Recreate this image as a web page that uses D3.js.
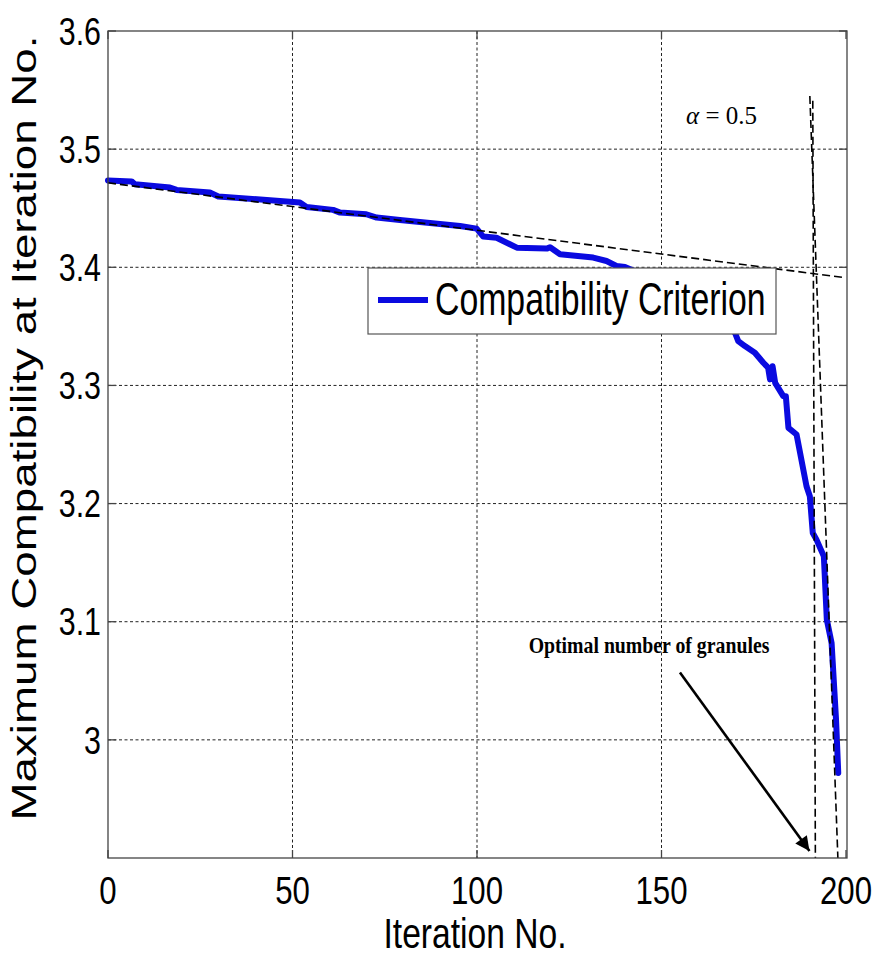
<!DOCTYPE html>
<html>
<head>
<meta charset="utf-8">
<script src="https://cdn.jsdelivr.net/npm/d3@7/dist/d3.min.js"></script>
<style>
  html, body { margin: 0; padding: 0; background: #fff; }
  svg { display: block; }
</style>
</head>
<body>
<svg id="chart" width="876" height="957"></svg>
<script>
// Maximum compatibility reached at each iteration
const iterations = [0, 6.4, 7.3, 16.8, 18.6, 27.6, 29.9, 46.6, 52, 53.8, 61, 62.9, 70, 72.8, 79.1, 95.4, 99.9,
  101.7, 105.3, 108.9, 110.8, 118.9, 119.8, 122.5, 131.5, 135.1, 137.8, 140.1, 150, 160, 166,
  169.9, 170.8, 172.6, 175.3, 177.6, 178.9, 179.4, 180.1, 180.8, 183, 183.7, 184.4, 186.6,
  189.3, 190.2, 191, 192, 194, 194.8, 196.1, 197.3, 197.9];
const compatibility = [3.4735, 3.4727, 3.4703, 3.4675, 3.4655, 3.4633, 3.4599, 3.4562, 3.4548, 3.4511, 3.4486, 3.4463, 3.4449, 3.4421, 3.4400, 3.4350, 3.4327,
  3.4260, 3.4250, 3.4195, 3.4166, 3.4158, 3.4170, 3.4110, 3.4082, 3.4053, 3.4011, 3.4002, 3.3870, 3.3700, 3.3550,
  3.3446, 3.3375, 3.3333, 3.3277, 3.3192, 3.3150, 3.3051, 3.3163, 3.3022, 3.2909, 3.2909, 3.2641, 3.2585,
  3.2147, 3.2062, 3.1751, 3.1695, 3.1553, 3.1017, 3.0818, 3.0170, 2.9720];

// Guide lines: slow-decline trend, steep-decline trend, chosen iteration
const trendSlow = [[0, 3.4715], [199, 3.3915]];
const trendSteep = [[190.2, 3.545], [197.8, 2.9]];
const optimalLine = [[191.0, 3.541], [191.7, 2.9]];
const arrowPts = [[155, 3.057], [190.1, 2.906]];

const xTicks = [0, 50, 100, 150, 200];
const yTicks = [3.0, 3.1, 3.2, 3.3, 3.4, 3.5, 3.6];
const seriesName = "Compatibility Criterion";
const xTitle = "Iteration No.";
const yTitle = "Maximum Compatibility at Iteration No.";
const noteText = "Optimal number of granules";

const L = 108, R = 847, T = 31, B = 858;
const svg = d3.select("#chart");
const x = d3.scaleLinear().domain([0, 200]).range([L, R - 1]);
const y = d3.scaleLinear().domain([2.9, 3.6]).range([B, T]);

const sans = "'Liberation Sans', Arial, sans-serif";
const serif = "'Liberation Serif', 'Times New Roman', serif";
const squeeze = 0.8; // condensed look for tick labels

// grid
const grid = svg.append("g").attr("stroke", "#222").attr("stroke-width", 1).attr("stroke-dasharray", "3,2.5");
grid.selectAll(".gx").data(xTicks.filter(d => d > 0 && d < 200)).join("line")
  .attr("x1", d => x(d)).attr("x2", d => x(d)).attr("y1", T).attr("y2", B);
grid.selectAll(".gy").data(yTicks.filter(d => d < 3.6)).join("line")
  .attr("x1", L).attr("x2", R).attr("y1", d => y(d)).attr("y2", d => y(d));

// series
const line = d3.line().x((d, i) => x(iterations[i])).y(d => y(d));
svg.append("path").datum(compatibility)
  .attr("d", line).attr("fill", "none").attr("stroke", "#0a0ae0")
  .attr("stroke-width", 6).attr("stroke-linejoin", "round").attr("stroke-linecap", "round");

// dashed guide lines
const gl = d3.line().x(d => x(d[0])).y(d => y(d[1]));
[trendSlow, trendSteep, optimalLine].forEach(pts => {
  svg.append("path").attr("d", gl(pts)).attr("fill", "none")
    .attr("stroke", "#000").attr("stroke-width", 1.6).attr("stroke-dasharray", "8,4");
});

// legend
const lg = svg.append("g");
lg.append("rect").attr("x", 368).attr("y", 268).attr("width", 408).attr("height", 66)
  .attr("fill", "#fff").attr("stroke", "#555").attr("stroke-width", 1.2);
lg.append("line").attr("x1", 378).attr("x2", 428).attr("y1", 300).attr("y2", 300)
  .attr("stroke", "#0a0ae0").attr("stroke-width", 6);
lg.append("text").attr("transform", "translate(435,315) scale(0.735,1)").text(seriesName)
  .attr("font-family", sans).attr("font-size", 46).attr("fill", "#000");

// annotations
svg.append("defs").append("marker").attr("id", "head")
  .attr("viewBox", "0 0 10 10").attr("refX", 10).attr("refY", 5)
  .attr("markerWidth", 8).attr("markerHeight", 5.5).attr("markerUnits", "strokeWidth")
  .attr("orient", "auto")
  .append("path").attr("d", "M0,0 L10,5 L0,10 Z").attr("fill", "#000");
svg.append("path").attr("d", gl(arrowPts)).attr("stroke", "#000").attr("stroke-width", 2.6)
  .attr("fill", "none").attr("marker-end", "url(#head)");

svg.append("text").attr("transform", "translate(649,653) scale(0.86,1)").attr("text-anchor", "middle")
  .attr("font-family", serif).attr("font-weight", "bold").attr("font-size", 23).text(noteText);

const alpha = svg.append("text").attr("x", 686).attr("y", 124)
  .attr("font-family", serif).attr("font-size", 25);
alpha.append("tspan").attr("font-style", "italic").text("α");
alpha.append("tspan").text(" = 0.5");

// axes box and ticks
const tk = 8;
const ax = svg.append("g").attr("stroke", "#444").attr("stroke-width", 1.3);
ax.append("rect").attr("x", L).attr("y", T).attr("width", R - L).attr("height", B - T).attr("fill", "none");
xTicks.forEach(d => {
  ax.append("line").attr("x1", x(d)).attr("x2", x(d)).attr("y1", B).attr("y2", B - tk);
  ax.append("line").attr("x1", x(d)).attr("x2", x(d)).attr("y1", T).attr("y2", T + tk);
});
yTicks.forEach(d => {
  ax.append("line").attr("x1", L).attr("x2", L + tk).attr("y1", y(d)).attr("y2", y(d));
  ax.append("line").attr("x1", R).attr("x2", R - tk).attr("y1", y(d)).attr("y2", y(d));
});

// tick labels
svg.append("g").selectAll("text").data(xTicks).join("text")
  .attr("transform", d => `translate(${x(d)},904) scale(${squeeze},1)`).attr("text-anchor", "middle")
  .attr("font-family", sans).attr("font-size", 39).text(d => d);
svg.append("g").selectAll("text").data(yTicks).join("text")
  .attr("transform", d => `translate(101,${y(d)}) scale(${squeeze},1)`)
  .attr("dy", "0.36em").attr("text-anchor", "end")
  .attr("font-family", sans).attr("font-size", 38).text(d => d3.format("")(d));

// axis titles
svg.append("text").attr("transform", "translate(475,948) scale(0.8,1)").attr("text-anchor", "middle")
  .attr("font-family", sans).attr("font-size", 42).text(xTitle);
svg.append("text").attr("transform", "translate(36,428) rotate(-90)").attr("text-anchor", "middle")
  .attr("font-family", sans).attr("font-size", 35)
  .attr("textLength", 785).attr("lengthAdjust", "spacingAndGlyphs").text(yTitle);
</script>
</body>
</html>
